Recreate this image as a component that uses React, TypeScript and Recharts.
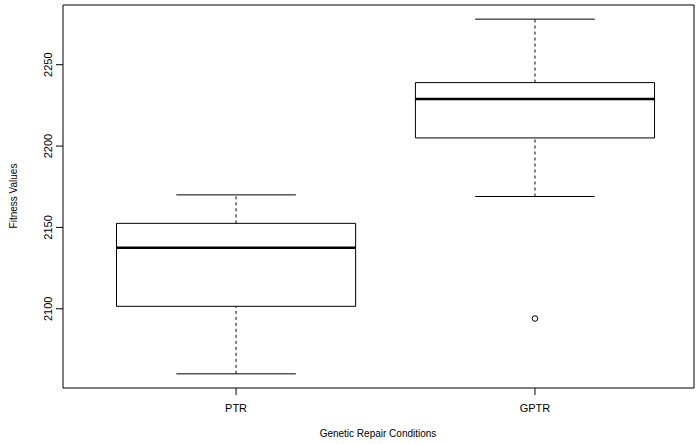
import { ComposedChart, ReferenceArea, ReferenceLine, Scatter, XAxis, YAxis } from "recharts"

const groups = ["PTR", "GPTR"]
const lowerWhisker = [2060, 2169]
const q1 = [2101.5, 2205]
const median = [2137.5, 2229]
const q3 = [2152.5, 2239]
const upperWhisker = [2170, 2278]
const outlierGroup = [2]
const outlierValue = [2094]
const yTicks = [2100, 2150, 2200, 2250]

const xDomain = [0.421, 2.532]
const yDomain = [2051.3, 2286.7]
const font = "'Liberation Sans', Arial, sans-serif"

const outliers = outlierGroup.map((g, i) => ({ x: g, y: outlierValue[i] }))

function XTick(props: any) {
  const { x, y, payload } = props
  return (
    <text x={x} y={y + 15} textAnchor="middle" fontSize={11} fontFamily={font} fill="#000">
      {groups[payload.value - 1]}
    </text>
  )
}

function YTick(props: any) {
  const { x, y, payload } = props
  return (
    <text x={x - 2} y={y} transform={`rotate(-90, ${x - 2}, ${y})`} textAnchor="middle" fontSize={11} fontFamily={font} fill="#000">
      {payload.value}
    </text>
  )
}

export default function App() {
  return (
    <div style={{ position: "absolute", left: 0, top: 0, width: 696, height: 444, background: "#fff" }}>
      <ComposedChart width={696} height={444} margin={{ top: 5, right: 2, bottom: 0, left: 0 }}>
        <XAxis
          type="number"
          dataKey="x"
          domain={xDomain}
          allowDataOverflow
          ticks={[1, 2]}
          height={56}
          tickSize={7}
          axisLine={false}
          tickLine={{ stroke: "#000" }}
          tick={<XTick />}
        />
        <YAxis
          type="number"
          dataKey="y"
          domain={yDomain}
          allowDataOverflow
          ticks={yTicks}
          width={63}
          tickSize={7}
          axisLine={false}
          tickLine={{ stroke: "#000" }}
          tick={<YTick />}
        />
        <ReferenceArea x1={xDomain[0]} x2={xDomain[1]} y1={yDomain[0]} y2={yDomain[1]} fill="none" stroke="#000" strokeWidth={1} fillOpacity={0} />
        {groups.map((g, i) => {
          const c = i + 1
          return [
            <ReferenceLine key={`wl-${g}`} segment={[{ x: c, y: lowerWhisker[i] }, { x: c, y: q1[i] }]} stroke="#000" strokeDasharray="3 3" />,
            <ReferenceLine key={`wu-${g}`} segment={[{ x: c, y: q3[i] }, { x: c, y: upperWhisker[i] }]} stroke="#000" strokeDasharray="3 3" />,
            <ReferenceLine key={`cl-${g}`} segment={[{ x: c - 0.2, y: lowerWhisker[i] }, { x: c + 0.2, y: lowerWhisker[i] }]} stroke="#000" />,
            <ReferenceLine key={`cu-${g}`} segment={[{ x: c - 0.2, y: upperWhisker[i] }, { x: c + 0.2, y: upperWhisker[i] }]} stroke="#000" />,
            <ReferenceArea key={`box-${g}`} x1={c - 0.4} x2={c + 0.4} y1={q1[i]} y2={q3[i]} fill="#fff" fillOpacity={1} stroke="#000" strokeWidth={1} />,
            <ReferenceLine key={`md-${g}`} segment={[{ x: c - 0.4, y: median[i] }, { x: c + 0.4, y: median[i] }]} stroke="#000" strokeWidth={2.5} />,
          ]
        })}
        <Scatter
          data={outliers}
          isAnimationActive={false}
          shape={(p: any) => <circle cx={p.cx} cy={p.cy} r={2.8} fill="none" stroke="#000" strokeWidth={1} />}
        />
        <text x={17} y={196} transform="rotate(-90, 17, 196)" textAnchor="middle" fontSize={10} fontFamily={font} fill="#000">
          Fitness Values
        </text>
        <text x={378} y={437} textAnchor="middle" fontSize={10} fontFamily={font} fill="#000">
          Genetic Repair Conditions
        </text>
      </ComposedChart>
    </div>
  )
}
